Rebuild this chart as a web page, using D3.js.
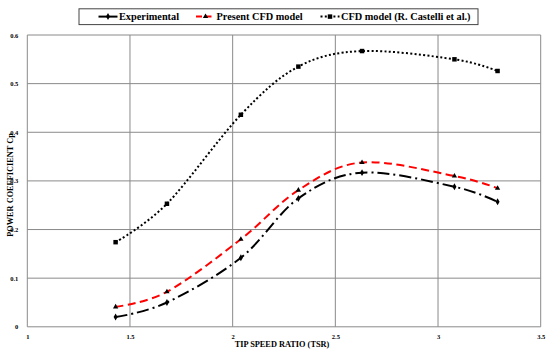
<!DOCTYPE html>
<html>
<head>
<meta charset="utf-8" />
<title>Power coefficient vs TSR</title>
<script src="https://d3js.org/d3.v7.min.js"></script>
<style>
  body { margin: 0; background: #fff; }
  text { font-family: "Liberation Serif", "Times New Roman", serif; font-weight: bold; }
</style>
</head>
<body>
<script>
// data
var tsr = [1.43, 1.68, 2.04, 2.32, 2.63, 3.08, 3.29];
var experimental = [0.020, 0.050, 0.142, 0.264, 0.317, 0.288, 0.257];
var presentCFD = [0.041, 0.072, 0.180, 0.281, 0.338, 0.310, 0.285];
var castelli = [0.174, 0.253, 0.436, 0.535, 0.567, 0.550, 0.526];
var xTicks = [1, 1.5, 2, 2.5, 3, 3.5];
var yTicks = [0, 0.1, 0.2, 0.3, 0.4, 0.5, 0.6];
var seriesNames = ["Experimental", "Present CFD model", "CFD model (R. Castelli et al.)"];

var W = 550, H = 349;
var margin = {top: 35, right: 9.3, bottom: 22.2, left: 27.3};
var width = W - margin.left - margin.right,
    height = H - margin.top - margin.bottom;

var svg = d3.select("body").append("svg")
  .attr("width", W).attr("height", H);
var g = svg.append("g")
  .attr("transform", "translate(" + margin.left + "," + margin.top + ")");

var x = d3.scaleLinear().domain([1, 3.5]).range([0, width]);
var y = d3.scaleLinear().domain([0, 0.6]).range([height, 0]);

// grid
g.selectAll(".hgrid").data(yTicks).enter().append("line")
  .attr("x1", 0).attr("x2", width)
  .attr("y1", function(d) { return y(d); }).attr("y2", function(d) { return y(d); })
  .attr("stroke", "#8a8a8a").attr("stroke-width", 1);
g.selectAll(".vgrid").data(xTicks).enter().append("line")
  .attr("y1", 0).attr("y2", height)
  .attr("x1", function(d) { return x(d); }).attr("x2", function(d) { return x(d); })
  .attr("stroke", "#8a8a8a").attr("stroke-width", 1);

// axes (labels only)
var xAxis = g.append("g").attr("transform", "translate(0," + height + ")")
  .call(d3.axisBottom(x).tickValues(xTicks).tickSize(0).tickPadding(8)
    .tickFormat(function(d) { return d; }));
var yAxis = g.append("g")
  .call(d3.axisLeft(y).tickValues(yTicks).tickSize(0).tickPadding(9)
    .tickFormat(function(d) { return d; }));
[xAxis, yAxis].forEach(function(a) {
  a.select(".domain").remove();
  a.selectAll("text").attr("font-size", "6.5px").attr("fill", "#000")
    .attr("font-family", "Liberation Serif").attr("font-weight", "bold");
});

// axis titles
svg.append("text").attr("x", margin.left + width / 2 - 2).attr("y", 347)
  .attr("text-anchor", "middle").attr("font-size", "8.3px").text("TIP SPEED RATIO (TSR)");
svg.append("text").attr("transform", "translate(13,185) rotate(-90)")
  .attr("text-anchor", "middle").attr("font-size", "8.3px").text("POWER COEFFICIENT Cp");

// lines
var line = d3.line()
  .x(function(d) { return x(d[0]); })
  .y(function(d) { return y(d[1]); })
  .curve(d3.curveCatmullRom.alpha(0));

function pts(vals) { return tsr.map(function(t, i) { return [t, vals[i]]; }); }

var styles = [
  {vals: experimental, color: "#000", dash: "12,4,2,4", cap: "butt"},
  {vals: presentCFD, color: "#ff0000", dash: "8,4.5", cap: "butt"},
  {vals: castelli, color: "#000", dash: "2,2.3", cap: "butt"}
];

styles.forEach(function(s) {
  g.append("path").datum(pts(s.vals))
    .attr("d", line).attr("fill", "none")
    .attr("stroke", s.color).attr("stroke-width", 2)
    .attr("stroke-dasharray", s.dash);
});

// markers
var sym = [d3.symbolDiamond, d3.symbolTriangle, d3.symbolSquare];
var symSize = [14, 12, 20];
styles.forEach(function(s, k) {
  g.selectAll(".m" + k).data(pts(s.vals)).enter().append("path")
    .attr("d", d3.symbol().type(sym[k]).size(symSize[k]))
    .attr("transform", function(d) { return "translate(" + x(d[0]) + "," + y(d[1]) + ")"; })
    .attr("fill", "#000");
});

// legend
var lg = svg.append("g");
lg.append("rect").attr("x", 79).attr("y", 8.8).attr("width", 399).attr("height", 15.8)
  .attr("fill", "#fff").attr("stroke", "#444").attr("stroke-width", 1);
var legX = [98.5, 196, 320.5];
styles.forEach(function(s, k) {
  lg.append("line").attr("x1", legX[k]).attr("x2", legX[k] + 19)
    .attr("y1", 16.6).attr("y2", 16.6)
    .attr("stroke", s.color).attr("stroke-width", 2)
    .attr("stroke-dasharray", k === 0 ? null : (k === 1 ? "6,3.5" : "2,2.3"));
  lg.append("path").attr("d", d3.symbol().type(sym[k]).size(symSize[k]))
    .attr("transform", "translate(" + (legX[k] + 9.5) + ",16.6)").attr("fill", "#000");
  lg.append("text").attr("x", legX[k] + 20.5).attr("y", 20.2)
    .attr("font-size", "10.3px").text(seriesNames[k]);
});
</script>
</body>
</html>
